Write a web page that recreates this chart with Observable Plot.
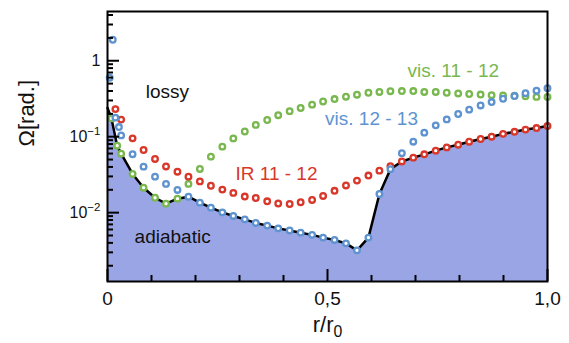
<!DOCTYPE html>
<html><head><meta charset="utf-8">
<script src="https://cdn.jsdelivr.net/npm/d3@7"></script>
<script src="https://cdn.jsdelivr.net/npm/@observablehq/plot@0.6"></script>
<style>
body{margin:0;background:#fff;}
#chart{width:569px;height:343px;}
</style></head><body><div id="chart"></div>
<script>
// shared radial grid (r/r0)
const r = [0.031,0.057,0.082,0.108,0.133,0.159,0.184,0.210,0.235,0.261,0.286,0.312,0.337,0.363,0.388,0.414,0.439,0.465,0.490,0.516,0.542,0.567,0.593,0.618,0.643,0.669,0.695,0.720,0.746,0.771,0.797,0.822,0.848,0.873,0.899,0.925,0.950,0.975,1.000];

// IR 11 - 12 (red)
const rIR = [0.018, ...r];
const omegaIR = [0.231, 0.168,0.0951,0.0668,0.0509,0.0406,0.0346,0.0298,0.0258,0.0226,0.0201,0.0182,0.0163,0.0156,0.0141,0.0132,0.0130,0.0137,0.0147,0.0166,0.0194,0.0228,0.0264,0.0308,0.0357,0.0409,0.0472,0.0530,0.0586,0.0655,0.0723,0.0785,0.0859,0.0933,0.100,0.109,0.116,0.124,0.130,0.138];

// vis. 11 - 12 (green)
const rVis1112 = [0.009, 0.022, ...r];
const omegaVis1112 = [0.174, 0.0761, 0.0598,0.0323,0.0213,0.0157,0.01313,0.01528,0.0239,0.0376,0.0546,0.0739,0.0950,0.117,0.143,0.166,0.192,0.217,0.239,0.264,0.291,0.313,0.336,0.357,0.379,0.388,0.397,0.399,0.399,0.388,0.388,0.379,0.371,0.365,0.359,0.352,0.349,0.346,0.341,0.334,0.334];

// vis. 12 - 13 (blue)
const rVis1213 = [0.005, 0.012, 0.018, 0.026, ...r];
const omegaVis1213 = [0.598, 1.89, 0.178, 0.134, 0.104,0.0588,0.0403,0.0298,0.0239,0.0199,0.0162,0.01354,0.01164,0.01009,0.00905,0.00816,0.00732,0.00675,0.00621,0.00583,0.00545,0.00510,0.00469,0.00437,0.00394,0.00319,0.00469,0.0176,0.0374,0.0607,0.0859,0.113,0.141,0.169,0.199,0.227,0.258,0.286,0.316,0.343,0.374,0.403,0.435];

// adiabatic boundary: leading points near the axis, then the lowest series at each grid point
const rAdiabaticStart = [0, 0.009, 0.022];
const omegaAdiabaticStart = [0.24, 0.174, 0.0761];

const xTicks = [0, 0.5, 1];
const xTickLabels = ["0", "0,5", "1,0"];
const xMinorTicks = [0.1,0.2,0.3,0.4,0.6,0.7,0.8,0.9];
const yTicks = [1, 0.1, 0.01];
const yTickLabels = ["1", "10|−1", "10|−2"];

const annotations = [
  {text: "lossy", r: 0.136, omega: 0.394, color: "#111"},
  {text: "adiabatic", r: 0.148, omega: 0.00483, color: "#111"},
  {text: "IR 11 - 12", r: 0.384, omega: 0.0326, color: "#d9372a"},
  {text: "vis. 11 - 12", r: 0.786, omega: 0.738, color: "#79b74f"},
  {text: "vis. 12 - 13", r: 0.600, omega: 0.1726, color: "#5e93d0"}
];

const toRows = (xs, ys) => xs.map((x, i) => ({r: x, omega: ys[i]}));
const ir = toRows(rIR, omegaIR);
const v1112 = toRows(rVis1112, omegaVis1112);
const v1213 = toRows(rVis1213, omegaVis1213);
const adiabatic = [
  ...toRows(rAdiabaticStart, omegaAdiabaticStart),
  ...r.map((x, i) => ({r: x, omega: Math.min(omegaIR[i + 1], omegaVis1112[i + 2], omegaVis1213[i + 4])}))
];

const W = 569, H = 343, mL = 107, mR = 22, mT = 11, mB = 62;
const pw = W - mL - mR, ph = H - mT - mB;
const yDomain = [0.00124, 4.45];
const yMinorTicks = [];
for (const e of [-3, -2, -1, 0]) for (let m = 2; m <= 9; m++) {
  const v = m * Math.pow(10, e);
  if (v > yDomain[0] && v < yDomain[1]) yMinorTicks.push(+v.toPrecision(3));
}

const RED = "#d9372a", GREEN = "#79b74f", BLUE = "#5e93d0", FILL = "#9aa5e6";
const dotOpts = (c) => ({x: "r", y: "omega", r: 2.8, stroke: c, strokeWidth: 2.3, fill: "white"});

const chart = Plot.plot({
  width: W, height: H,
  marginLeft: mL, marginRight: mR, marginTop: mT, marginBottom: mB,
  style: {fontFamily: "'Liberation Sans', Arial, Helvetica, sans-serif", background: "white", overflow: "visible"},
  x: {domain: [0, 1], axis: null},
  y: {type: "log", domain: yDomain, axis: null},
  marks: [
    Plot.areaY(adiabatic, {x: "r", y1: yDomain[0], y2: "omega", fill: FILL}),
    Plot.line(adiabatic, {x: "r", y: "omega", stroke: "black", strokeWidth: 2.5}),
    Plot.dot(v1112, dotOpts(GREEN)),
    Plot.dot(ir, dotOpts(RED)),
    Plot.dot(v1213, dotOpts(BLUE)),
    Plot.tickX(xMinorTicks, {x: d => d, stroke: "black", strokeWidth: 2, insetTop: ph - 6}),
    Plot.tickX(xTicks, {x: d => d, stroke: "black", strokeWidth: 2, insetTop: ph - 12}),
    Plot.tickY(yMinorTicks, {y: d => d, stroke: "black", strokeWidth: 2, insetRight: pw - 6}),
    Plot.tickY(yTicks, {y: d => d, stroke: "black", strokeWidth: 2, insetRight: pw - 12}),
    Plot.frame({stroke: "black", strokeWidth: 2}),
    Plot.axisX(xTicks, {tickSize: 0, tickPadding: 10, fontSize: 19, fill: "#111", label: null,
      tickFormat: d => xTickLabels[xTicks.indexOf(d)]}),
    Plot.axisY(yTicks, {tickSize: 0, tickPadding: 7, fontSize: 16, fill: "#111", label: null,
      tickFormat: d => yTickLabels[yTicks.indexOf(d)]}),
    Plot.text(annotations, {x: "r", y: "omega", text: "text", fill: "color", fontSize: 19, textAnchor: "middle"}),
    Plot.text(["r/r0"], {frameAnchor: "bottom", dy: 50, text: d => d, fontSize: 22, fill: "#111"}),
    Plot.text(["Ω[rad.]"], {frameAnchor: "left", dx: -81, rotate: -90, text: d => d, fontSize: 22, fill: "#111"})
  ]
});
document.getElementById("chart").appendChild(chart);

// superscripts / subscripts as real tspans
d3.select(chart).selectAll("text").each(function () {
  const t = this.textContent;
  if (t.includes("|")) {
    const [base, sup] = t.split("|");
    const el = d3.select(this);
    el.text(null);
    el.append("tspan").text(base);
    el.append("tspan").attr("dy", "-0.55em").attr("font-size", "0.72em").text(sup);
  } else if (t === "r/r0") {
    const el = d3.select(this);
    el.text(null);
    el.append("tspan").text("r/r");
    el.append("tspan").attr("dy", "0.35em").attr("font-size", "0.72em").text("0");
  }
});
</script></body></html>
